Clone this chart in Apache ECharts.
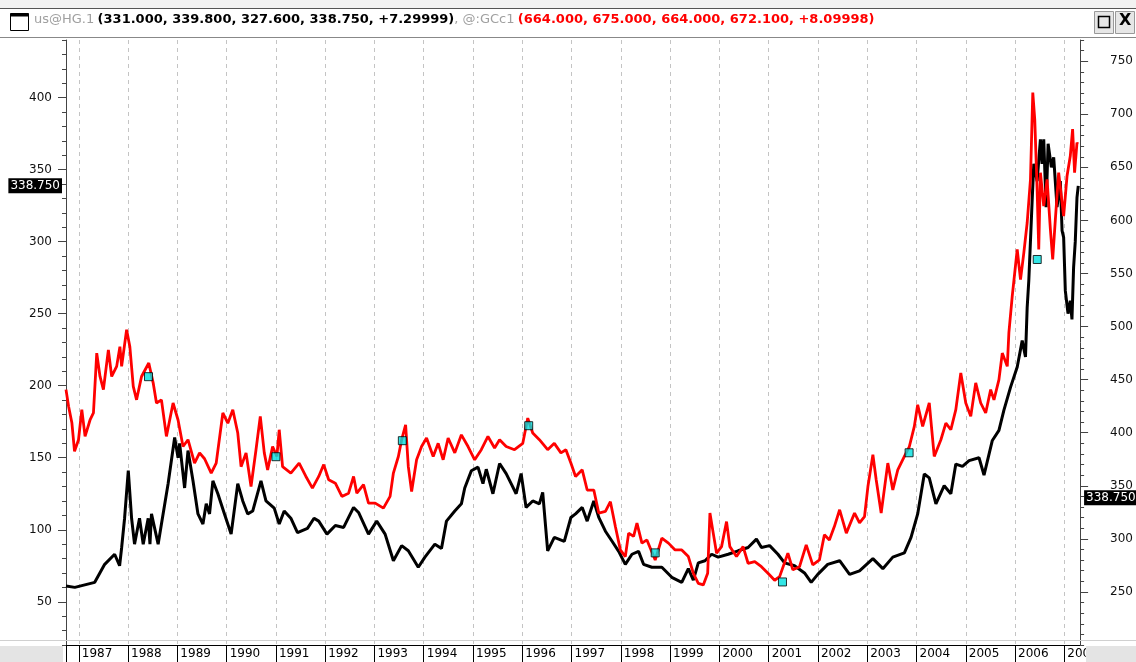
<!DOCTYPE html>
<html>
<head>
<meta charset="utf-8">
<script src="https://cdn.jsdelivr.net/npm/echarts@6/dist/echarts.min.js"></script>
<style>
html,body{margin:0;padding:0;background:#fff;}
#c{width:1136px;height:662px;}
</style>
</head>
<body>
<div id="c"></div>
<script>
// ---- data (decimal years) ----
const years = [1987,1988,1989,1990,1991,1992,1993,1994,1995,1996,1997,1998,1999,2000,2001,2002,2003,2004,2005,2006,2007];
const leftTicks = [50,100,150,200,250,300,350,400];
const rightTicks = [250,300,350,400,450,500,550,600,650,700,750];

// Copper (us@HG.1), left axis
const copperT = [1986.74,1986.919,1987.323,1987.525,1987.727,1987.828,1987.869,1987.929,1988.004,1988.071,1988.131,1988.232,1988.307,1988.408,1988.444,1988.475,1988.610,1988.677,1988.812,1988.945,1989.014,1989.046,1989.147,1989.216,1989.317,1989.418,1989.519,1989.586,1989.653,1989.721,1989.822,1989.956,1990.091,1990.226,1990.327,1990.428,1990.529,1990.697,1990.798,1990.966,1991.067,1991.168,1991.303,1991.438,1991.640,1991.774,1991.869,1992.036,1992.206,1992.374,1992.576,1992.677,1992.879,1993.046,1993.216,1993.384,1993.552,1993.687,1993.889,1994.024,1994.226,1994.360,1994.461,1994.630,1994.764,1994.832,1994.966,1995.101,1995.202,1995.269,1995.404,1995.539,1995.673,1995.774,1995.875,1995.976,1996.077,1996.212,1996.347,1996.414,1996.515,1996.650,1996.852,1996.986,1997.081,1997.216,1997.317,1997.451,1997.552,1997.687,1997.822,1997.956,1998.091,1998.226,1998.360,1998.461,1998.630,1998.832,1999.034,1999.236,1999.370,1999.471,1999.572,1999.707,1999.842,1999.976,2000.178,2000.380,2000.582,2000.752,2000.853,2001.020,2001.188,2001.323,2001.525,2001.727,2001.863,2001.996,2002.198,2002.440,2002.642,2002.844,2003.115,2003.317,2003.519,2003.754,2003.889,2004.024,2004.158,2004.259,2004.394,2004.562,2004.697,2004.798,2004.933,2005.067,2005.269,2005.370,2005.539,2005.673,2005.774,2005.909,2006.044,2006.145,2006.212,2006.246,2006.279,2006.347,2006.380,2006.448,2006.515,2006.549,2006.582,2006.630,2006.671,2006.737,2006.784,2006.852,2006.919,2006.954,2006.986,2007.020,2007.075,2007.121,2007.155,2007.188,2007.222,2007.257,2007.283];
const copperV = [61,60,63.5,76,83,75,87.5,108,141,108,90,108,90,108,90,111,90,104,132,164,150,160,129,155,134,111,104,118,111,134,125,111,97,132,120,111,113,134,120,115,104,113,108,98,101,108,106,97,103,101.6,115.5,112,97,106,97,78.5,89,85.4,74,81,90,87,106,113,118,129,141,143.5,132,142,125,146,139,132,125,139,115.5,120,118,126,85.4,94.7,92,108.5,111,115.5,106,120,108.6,99,92,85,76,83,85,76,74,74,67,63.5,73,65,77,78.5,83,81,83,85.4,87.7,93.5,87.7,89,83,77,75,70,63.5,69,76,78.5,69,71.5,80,73,81,84,94.7,111,138.7,136,118,130.6,125,145.6,144,148,150,138,162,169,183,199,213,231.3,220,254.4,272.9,328.5,354,342,371,354,371,324,368,351.6,358.5,324,342,307.6,303,266,250,259,246,282,300,330.8,338.75];

// Gold (@:GCc1), right axis
const goldT = [1986.74,1986.792,1986.859,1986.913,1986.994,1987.061,1987.127,1987.228,1987.297,1987.364,1987.430,1987.499,1987.600,1987.667,1987.768,1987.834,1987.869,1987.970,1988.036,1988.105,1988.172,1988.273,1988.420,1988.509,1988.576,1988.677,1988.778,1988.913,1989.014,1989.115,1989.216,1989.349,1989.451,1989.552,1989.687,1989.788,1989.923,1990.024,1990.125,1990.226,1990.293,1990.394,1990.495,1990.596,1990.683,1990.764,1990.832,1990.933,1991.020,1991.067,1991.135,1991.303,1991.471,1991.606,1991.741,1991.869,1991.970,1992.071,1992.206,1992.339,1992.475,1992.576,1992.642,1992.778,1992.879,1993.014,1993.182,1993.317,1993.384,1993.485,1993.552,1993.632,1993.687,1993.754,1993.855,1993.956,1994.057,1994.192,1994.293,1994.394,1994.495,1994.630,1994.764,1994.899,1995.034,1995.168,1995.303,1995.438,1995.539,1995.673,1995.842,1996.010,1996.111,1996.212,1996.347,1996.515,1996.650,1996.784,1996.885,1996.986,1997.081,1997.216,1997.317,1997.451,1997.552,1997.687,1997.788,1997.889,1997.990,1998.091,1998.158,1998.259,1998.327,1998.428,1998.529,1998.697,1998.832,1998.966,1999.101,1999.236,1999.370,1999.471,1999.572,1999.673,1999.762,1999.808,1999.875,1999.943,2000.044,2000.145,2000.212,2000.347,2000.481,2000.582,2000.717,2000.853,2000.986,2001.121,2001.222,2001.390,2001.491,2001.626,2001.762,2001.895,2002.030,2002.131,2002.232,2002.333,2002.440,2002.576,2002.743,2002.844,2002.945,2003.014,2003.115,2003.182,2003.283,2003.418,2003.519,2003.620,2003.754,2003.855,2003.956,2004.024,2004.125,2004.259,2004.360,2004.495,2004.596,2004.697,2004.798,2004.899,2005.000,2005.101,2005.202,2005.303,2005.404,2005.505,2005.572,2005.673,2005.741,2005.842,2005.875,2005.943,2006.044,2006.111,2006.178,2006.246,2006.313,2006.360,2006.400,2006.448,2006.481,2006.515,2006.582,2006.650,2006.717,2006.764,2006.818,2006.885,2006.939,2006.986,2007.055,2007.121,2007.168,2007.208,2007.257,2007.273];
const goldV = [440.6,425,409.4,382.4,393.4,421.7,396.5,412,418.6,475,453,440.6,478,453,462.5,481,462.5,497,481,443.7,431,453,465.7,447,428,431,396.5,428,412,387,393.4,371.4,381,375.5,362,371.4,418.6,409,421.7,399.7,368,381,349.3,384,415.4,381,365,387,377.6,402.8,368,362,371.4,359,347.8,358.8,370,355.7,352.5,340,343,358.8,343,351,333.7,333.7,329,340,362,377.6,393.4,407.5,368,344.6,374.5,387,395,377.6,390,374.5,395,381,398,387,374.5,384,396.5,385.6,393.4,387,384,390,413.8,399.7,393.4,384,390,381,384,371.4,358.8,365,346,346,324.3,325.8,335,311.6,289.6,283.3,305.4,302.3,314.8,296,299,280,300.6,296,289.6,289.6,283.3,267.6,258,256.6,267.6,324.3,305.4,286.5,292.7,316.3,292.7,283.3,292.7,277,278.6,273.8,267.6,261,264.4,286.5,270.8,273.8,294.3,275.5,280.2,303.8,299,311.6,327.4,305.4,324.3,315,321,349.3,379.2,355.7,324.3,371.4,346,365,377.6,387,406,426.4,406,428,377.6,393.4,409,402.8,421.7,456.3,428,415.4,447,428,418.6,440.6,431,450,475,462.5,494.3,528.6,572.6,544.3,569.5,597.8,638.7,720.5,695,629,572.6,645,613.5,638.7,591.5,563.2,601,645,623,604,641.8,660.7,686,645,673.3,672.1];

// cyan markers (on gold scale)
const markerT = [1988.414,1991.0,1993.566,1996.13,1998.697,2001.28,2003.85,2006.45];
const markerV = [452.8,377.4,392.5,406.6,286.8,259.4,381.1,563.2];

const lastCopper = 338.75;

const zip = (a,b)=>a.map((t,i)=>[t,b[i]]);
const FONT = 'DejaVu Sans';

const chart = echarts.init(document.getElementById('c'), null, {renderer:'canvas'});
const lastLabel = {show:true,distance:4,formatter:()=>lastCopper.toFixed(3),color:'#fff',backgroundColor:'#000',padding:[2,2,1,2],fontSize:12,fontFamily:FONT};
const option = {
  animation:false,
  backgroundColor:'#fff',
  grid:{left:66,right:51,top:40,height:605,containLabel:false},
  xAxis:{
    type:'value', min:1986.74, max:2007.32,
    axisLine:{show:true,lineStyle:{color:'#000',width:1}},
    axisTick:{show:true,customValues:[1986.74].concat(years),length:17,lineStyle:{color:'#000',width:1}},
    axisLabel:{show:true,customValues:years,align:'left',margin:3,padding:[0,0,0,3],color:'#000',fontSize:12,fontFamily:FONT,formatter:v=>String(Math.round(v))},
    splitLine:{show:true,lineStyle:{color:'#c4c4c4',type:[4,4],width:1}}
  },
  yAxis:[
    {type:'value',position:'left',min:20,max:440,interval:10,
     axisLine:{show:true,lineStyle:{color:'#444',width:1}},
     axisTick:{show:true,length:4,lineStyle:{color:'#444'}},
     axisLabel:{show:false},splitLine:{show:false}},
    {type:'value',position:'left',min:20,max:440,interval:10,
     axisLine:{show:false},
     axisTick:{show:true,customValues:leftTicks,length:8,lineStyle:{color:'#444'}},
     axisLabel:{show:true,customValues:leftTicks,margin:14,color:'#111',fontSize:12,fontFamily:FONT},
     splitLine:{show:false}},
    {type:'value',position:'right',min:200,max:770,interval:10,
     axisLine:{show:true,lineStyle:{color:'#444',width:1}},
     axisTick:{show:true,length:4,lineStyle:{color:'#444'}},
     axisLabel:{show:false},splitLine:{show:false}},
    {type:'value',position:'right',min:200,max:770,interval:10,
     axisLine:{show:false},
     axisTick:{show:true,customValues:rightTicks,length:8,lineStyle:{color:'#444'}},
     axisLabel:{show:true,customValues:rightTicks,margin:30,color:'#111',fontSize:12,fontFamily:FONT},
     splitLine:{show:false}}
  ],
  series:[
    {name:'us@HG.1',type:'line',yAxisIndex:0,data:zip(copperT,copperV),showSymbol:false,
     lineStyle:{color:'#000',width:3},itemStyle:{color:'#000'},z:3,
     markLine:{silent:true,symbol:'none',lineStyle:{color:'rgba(0,0,0,0)',width:0},
       label:Object.assign({position:'start'},lastLabel),
       data:[{yAxis:lastCopper}]}},
    {name:'@:GCc1',type:'line',yAxisIndex:2,data:zip(goldT,goldV),showSymbol:false,
     lineStyle:{color:'#ff0000',width:2.8},itemStyle:{color:'#f00'},z:4,
     markLine:{silent:true,symbol:'none',lineStyle:{color:'rgba(0,0,0,0)',width:0},
       label:Object.assign({position:'end'},lastLabel),
       data:[{yAxis:lastCopper}]}},
    {name:'markers',type:'scatter',yAxisIndex:2,data:zip(markerT,markerV),symbol:'rect',symbolSize:8,
     itemStyle:{color:'#00e0e0',borderColor:'#000',borderWidth:1},z:5}
  ],
  graphic:[
    {type:'rect',left:0,top:0,shape:{width:1136,height:8},style:{fill:'#f2f2f2'},z:10},
    {type:'line',shape:{x1:0,y1:8.5,x2:1136,y2:8.5},style:{stroke:'#555',lineWidth:1},z:10},
    {type:'line',shape:{x1:0,y1:37.5,x2:1136,y2:37.5},style:{stroke:'#888',lineWidth:1},z:10},
    // window icon
    {type:'rect',shape:{x:10.5,y:13.5,width:18,height:17},style:{fill:'#fff',stroke:'#000',lineWidth:1},z:10},
    {type:'rect',shape:{x:10.5,y:13.5,width:18,height:3},style:{fill:'#000'},z:10},
    // header text
    {type:'text',left:34,top:13,z:10,style:{
      text:'{g|us@HG.1} {k|(331.000, 339.800, 327.600, 338.750, +7.29999)}{g|, @:GCc1} {r|(664.000, 675.000, 664.000, 672.100, +8.09998)}',
      rich:{g:{fill:'#a0a0a0',fontSize:13,fontFamily:FONT},k:{fill:'#000',fontSize:13,fontWeight:'bold',fontFamily:FONT},r:{fill:'#ff0000',fontSize:13,fontWeight:'bold',fontFamily:FONT}}}},
    // buttons
    {type:'rect',shape:{x:1094.5,y:11.5,width:19,height:22},style:{fill:'#e6e6e6',stroke:'#999',lineWidth:1},z:10},
    {type:'rect',shape:{x:1098.5,y:16.5,width:11,height:11},style:{fill:'none',stroke:'#000',lineWidth:1.5},z:11},
    {type:'rect',shape:{x:1115.5,y:11.5,width:19,height:22},style:{fill:'#e6e6e6',stroke:'#999',lineWidth:1},z:10},
    {type:'text',left:1119,top:13,z:11,style:{text:'X',fill:'#000',fontSize:16,fontWeight:'bold',fontFamily:FONT}},
    // bottom strip grey areas
    {type:'line',shape:{x1:0,y1:640.5,x2:1136,y2:640.5},style:{stroke:'#d0d0d0',lineWidth:1},z:1},
    {type:'rect',shape:{x:0,y:646,width:63,height:16},style:{fill:'#e4e4e4'},z:10},
    {type:'rect',shape:{x:1086,y:646,width:50,height:16},style:{fill:'#e4e4e4'},z:10}
  ]
};
chart.setOption(option);
</script>
</body>
</html>
